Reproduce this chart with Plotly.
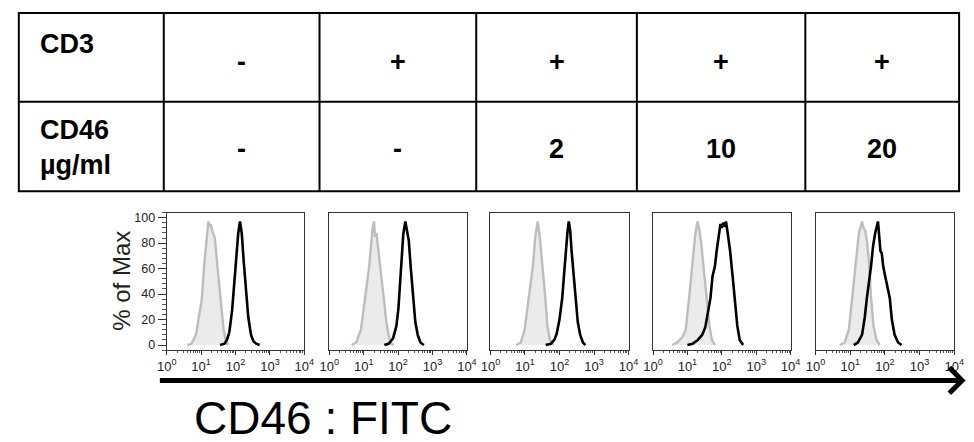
import plotly.graph_objects as go

W, H = 974, 442

# ---------------- table content ----------------
row_labels = ["CD3", "CD46<br>µg/ml"]
cd3_values = ["-", "+", "+", "+", "+"]
cd46_values = ["-", "-", "2", "10", "20"]

# ---------------- histogram data (x in log10 decades, y in % of max) ----------------
p1_iso_x = [0.60, 0.72, 0.85, 0.95, 1.02, 1.09, 1.16, 1.21, 1.25, 1.28, 1.33, 1.40, 1.47, 1.56, 1.65, 1.72, 1.80]
p1_iso_y = [0, 1, 8, 25, 36, 63, 85, 97, 93, 95, 89, 84, 63, 37, 13, 3, 0]
p1_cd46_x = [1.55, 1.68, 1.75, 1.82, 1.90, 1.97, 2.03, 2.08, 2.13, 2.18, 2.24, 2.30, 2.37, 2.45, 2.52, 2.60, 2.70]
p1_cd46_y = [0, 1, 4, 10, 27, 50, 72, 88, 97, 88, 65, 42, 22, 8, 3, 1, 0]

p2_iso_x = [0.65, 0.78, 0.92, 1.04, 1.16, 1.22, 1.26, 1.30, 1.33, 1.37, 1.41, 1.47, 1.58, 1.66, 1.72, 1.80, 1.88]
p2_iso_y = [0, 2, 12, 37, 62, 80, 92, 97, 85, 88, 78, 62, 37, 18, 8, 1, 0]
p2_cd46_x = [1.60, 1.72, 1.85, 1.95, 2.01, 2.08, 2.15, 2.21, 2.25, 2.31, 2.37, 2.43, 2.50, 2.57, 2.65, 2.75]
p2_cd46_y = [0, 1, 5, 15, 29, 62, 87, 97, 90, 82, 60, 37, 18, 8, 2, 0]

p3_iso_x = [0.75, 0.88, 0.99, 1.12, 1.23, 1.30, 1.37, 1.43, 1.51, 1.59, 1.65, 1.72, 1.82]
p3_iso_y = [0, 2, 12, 37, 62, 85, 97, 85, 62, 37, 15, 4, 0]
p3_cd46_x = [1.60, 1.75, 1.85, 1.92, 2.00, 2.08, 2.14, 2.18, 2.23, 2.27, 2.31, 2.35, 2.41, 2.46, 2.53, 2.60, 2.68, 2.75]
p3_cd46_y = [0, 1, 4, 9, 20, 37, 58, 74, 88, 97, 90, 74, 55, 37, 18, 8, 2, 0]

p4_iso_x = [0.55, 0.70, 0.85, 0.95, 1.05, 1.14, 1.22, 1.29, 1.34, 1.40, 1.47, 1.57, 1.64, 1.71, 1.80]
p4_iso_y = [0, 2, 6, 12, 37, 62, 85, 97, 92, 80, 62, 37, 15, 4, 0]
p4_cd46_x = [1.00, 1.15, 1.30, 1.43, 1.52, 1.60, 1.67, 1.73, 1.80, 1.85, 1.91, 1.96, 2.00, 2.04, 2.08, 2.12, 2.17, 2.24, 2.31, 2.38, 2.45, 2.52, 2.62]
p4_cd46_y = [0, 1, 4, 8, 14, 25, 37, 54, 62, 74, 88, 95, 92, 96, 93, 97, 88, 74, 55, 37, 15, 4, 0]

p5_iso_x = [0.70, 0.84, 0.96, 1.06, 1.15, 1.25, 1.34, 1.38, 1.43, 1.49, 1.55, 1.60, 1.67, 1.76, 1.85]
p5_iso_y = [0, 2, 12, 37, 62, 88, 97, 92, 90, 80, 62, 37, 15, 4, 0]
p5_cd46_x = [1.10, 1.22, 1.34, 1.42, 1.48, 1.55, 1.60, 1.66, 1.72, 1.80, 1.84, 1.87, 1.91, 1.95, 2.00, 2.07, 2.14, 2.20, 2.28, 2.38, 2.48]
p5_cd46_y = [0, 2, 8, 22, 37, 50, 62, 78, 88, 97, 82, 74, 72, 62, 55, 45, 37, 20, 8, 2, 0]

panels = [
    (p1_iso_x, p1_iso_y, p1_cd46_x, p1_cd46_y),
    (p2_iso_x, p2_iso_y, p2_cd46_x, p2_cd46_y),
    (p3_iso_x, p3_iso_y, p3_cd46_x, p3_cd46_y),
    (p4_iso_x, p4_iso_y, p4_cd46_x, p4_cd46_y),
    (p5_iso_x, p5_iso_y, p5_cd46_x, p5_cd46_y),
]

x_tick_vals = [1, 10, 100, 1000, 10000]
x_tick_text = ["10<sup>0</sup>", "10<sup>1</sup>", "10<sup>2</sup>", "10<sup>3</sup>", "10<sup>4</sup>"]
y_tick_vals = [0, 20, 40, 60, 80, 100]

# ---------------- layout geometry (pixels) ----------------
def px(x):
    return x / W

def py(y):
    return 1 - y / H

panel_px = [(160, 300.5), (326, 466.5), (490.5, 631.5), (656.5, 797), (822.5, 964)]
panel_top, panel_bottom = 213, 351.5

minor_x = [m * 10 ** e for e in range(0, 4) for m in range(2, 10)]

fig = go.Figure()
layout = {}
for i, (ix, iy, cx, cy) in enumerate(panels):
    n = i + 1
    xa = "x" if n == 1 else f"x{n}"
    ya = "y" if n == 1 else f"y{n}"
    fig.add_trace(go.Scatter(
        x=[10 ** v for v in ix], y=iy, xaxis=xa, yaxis=ya, mode="lines",
        line=dict(color="#bdbdbd", width=2.4), fill="tozeroy", fillcolor="#ebebeb",
        hoverinfo="skip", showlegend=False))
    fig.add_trace(go.Scatter(
        x=[10 ** v for v in cx], y=cy, xaxis=xa, yaxis=ya, mode="lines",
        line=dict(color="#000000", width=2.6),
        hoverinfo="skip", showlegend=False))
    l, r = panel_px[i]
    layout["xaxis" if n == 1 else f"xaxis{n}"] = dict(
        domain=[px(l), px(r)], anchor=ya, type="log", range=[0, 4],
        tickvals=x_tick_vals, ticktext=x_tick_text, ticks="outside", ticklen=4,
        tickwidth=1, tickcolor="#333", showline=True, mirror=True, linecolor="#333",
        linewidth=1, showgrid=False, zeroline=False,
        tickfont=dict(family="Liberation Sans, Arial", size=13, color="#222"),
        minor=dict(ticks="outside", ticklen=2, tickvals=minor_x, tickcolor="#555"),
        fixedrange=True)
    yax = dict(
        domain=[py(panel_bottom), py(panel_top)], anchor=xa, range=[-4, 104],
        showline=True, mirror=True, linecolor="#333", linewidth=1,
        showgrid=False, zeroline=False, fixedrange=True)
    if n == 1:
        yax.update(tickvals=y_tick_vals, ticks="outside", ticklen=8, tickwidth=1,
                   tickcolor="#333",
                   tickfont=dict(family="Liberation Sans, Arial", size=12.5, color="#222"),
                   minor=dict(ticks="outside", ticklen=4, dtick=4, tick0=0, tickcolor="#555"))
    else:
        yax.update(showticklabels=False, ticks="")
    layout["yaxis" if n == 1 else f"yaxis{n}"] = yax

# ---------------- table ----------------
col_px = [9, 157, 316, 476, 640, 812, 969]
row_px = [12, 101.5, 191.5]
shapes = []
shapes.append(dict(type="rect", xref="paper", yref="paper",
                   x0=px(col_px[0]), x1=px(col_px[-1]), y0=py(row_px[0]), y1=py(row_px[-1]),
                   line=dict(color="black", width=2)))
for c in col_px[1:-1]:
    shapes.append(dict(type="line", xref="paper", yref="paper",
                       x0=px(c), x1=px(c), y0=py(row_px[0]), y1=py(row_px[-1]),
                       line=dict(color="black", width=2)))
shapes.append(dict(type="line", xref="paper", yref="paper",
                   x0=px(col_px[0]), x1=px(col_px[-1]), y0=py(row_px[1]), y1=py(row_px[1]),
                   line=dict(color="black", width=2)))

# arrow
arrow_y = 382
shapes.append(dict(type="line", xref="paper", yref="paper",
                   x0=px(153), x1=px(968), y0=py(arrow_y), y1=py(arrow_y),
                   line=dict(color="black", width=5)))
shapes.append(dict(type="path", xref="paper", yref="paper",
                   path=f"M {px(959)},{py(369)} L {px(972)},{py(arrow_y)} L {px(959)},{py(395)}",
                   line=dict(color="black", width=5)))

annotations = []
bold = dict(family="Liberation Sans, Arial", size=27, color="black")
annotations.append(dict(xref="paper", yref="paper", x=px(29), y=py(43.5), text="<b>CD3</b>",
                        showarrow=False, xanchor="left", yanchor="middle", font=bold))
annotations.append(dict(xref="paper", yref="paper", x=px(29), y=py(148), text="<b>CD46</b><br><b>µg/ml</b>",
                        showarrow=False, xanchor="left", yanchor="middle", align="left", font=bold))
for j in range(5):
    cx = (col_px[j + 1] + col_px[j + 2]) / 2
    annotations.append(dict(xref="paper", yref="paper", x=px(cx), y=py(61.5), text=f"<b>{cd3_values[j]}</b>",
                            showarrow=False, xanchor="center", yanchor="middle", font=bold))
    annotations.append(dict(xref="paper", yref="paper", x=px(cx), y=py(149.5), text=f"<b>{cd46_values[j]}</b>",
                            showarrow=False, xanchor="center", yanchor="middle", font=bold))

annotations.append(dict(xref="paper", yref="paper", x=px(113), y=py(282), text="% of Max",
                        textangle=-90, showarrow=False, xanchor="center", yanchor="middle",
                        font=dict(family="Liberation Sans, Arial", size=24, color="#222")))
annotations.append(dict(xref="paper", yref="paper", x=px(320), y=py(420), text="CD46 : FITC",
                        showarrow=False, xanchor="center", yanchor="middle",
                        font=dict(family="Liberation Sans, Arial", size=46, color="black")))

fig.update_layout(
    width=W, height=H, margin=dict(l=0, r=0, t=0, b=0),
    paper_bgcolor="white", plot_bgcolor="white",
    shapes=shapes, annotations=annotations, showlegend=False,
    **layout)

fig.write_html("out.html", config={"displayModeBar": False},
               post_script="document.body.style.margin='0px';document.body.style.overflow='hidden';")
